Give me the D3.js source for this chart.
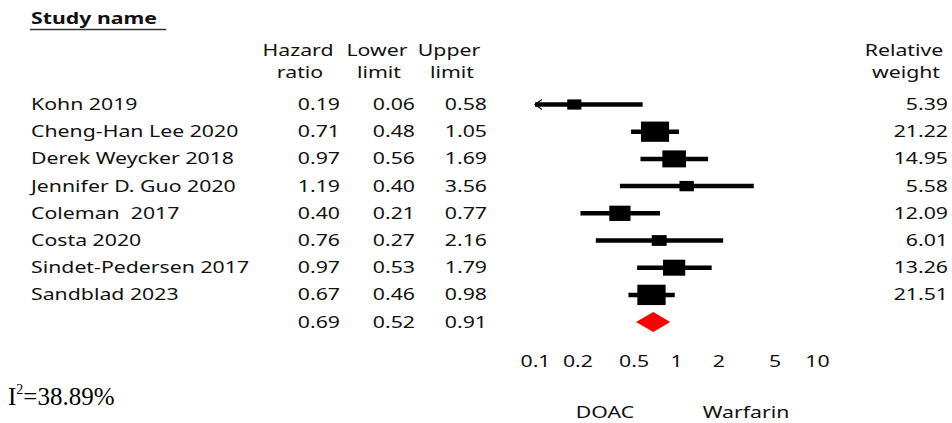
<!DOCTYPE html>
<html>
<head>
<meta charset="utf-8">
<script src="https://cdn.jsdelivr.net/npm/d3@7"></script>
<style>
  html, body { margin: 0; padding: 0; background: #fff; }
  svg { display: block; }
  text { white-space: pre; }
</style>
</head>
<body>
<svg id="chart" width="952" height="423"></svg>
<script>
// ---------------- data ----------------
const studies = ["Kohn 2019", "Cheng-Han Lee 2020", "Derek Weycker 2018", "Jennifer D. Guo 2020",
                 "Coleman  2017", "Costa 2020", "Sindet-Pedersen 2017", "Sandblad 2023"];
const hazardRatio = [0.19, 0.71, 0.97, 1.19, 0.40, 0.76, 0.97, 0.67];
const lowerLimit  = [0.06, 0.48, 0.56, 0.40, 0.21, 0.27, 0.53, 0.46];
const upperLimit  = [0.58, 1.05, 1.69, 3.56, 0.77, 2.16, 1.79, 0.98];
const relWeight   = [5.39, 21.22, 14.95, 5.58, 12.09, 6.01, 13.26, 21.51];
const pooled      = [0.69, 0.52, 0.91];   // hazard ratio, lower, upper
const tickValues  = [0.1, 0.2, 0.5, 1, 2, 5, 10];
const tickLabels  = ["0.1", "0.2", "0.5", "1", "2", "5", "10"];
const headers     = [["Hazard", "ratio"], ["Lower", "limit"], ["Upper", "limit"], ["Relative", "weight"]];
const iSquared    = "38.89%";
const leftLabel   = "DOAC";
const rightLabel  = "Warfarin";

// ---------------- layout ----------------
const FONT = "'Noto Sans', 'Open Sans', sans-serif";
const FS = 16;
const SX = 1.33;           // horizontal stretch of the original raster
const INK = "#111";

const svg = d3.select("#chart");

const x = d3.scaleLog().domain([0.1, 10]).range([535, 817]);
const row = d3.scaleLinear().domain([0, 8]).range([110, 327.6]);   // text baselines
const markOffset = -5.5;

function txt(g, px, py, s, anchor, opts = {}) {
  return g.append("text")
    .attr("transform", `translate(${px},${py}) scale(${SX},1)`)
    .attr("text-anchor", anchor || "start")
    .attr("font-family", FONT)
    .attr("font-size", opts.size || FS)
    .attr("font-weight", opts.weight || "normal")
    .attr("fill", INK)
    .text(s);
}

const gText = svg.append("g");

// Title
txt(gText, 31, 24, "Study name", "start", { weight: "bold" });
svg.append("line").attr("x1", 30).attr("x2", 166).attr("y1", 29.5).attr("y2", 29.5)
   .attr("stroke", "#333").attr("stroke-width", 1.5);

// Column headers
const headX = [[298, 300], [377, 379], [449, 452], [904, 906]];
const headY1 = 56, headY2 = 78;
headers.forEach((h, i) => {
  txt(gText, headX[i][0], headY1, h[0], "middle");
  txt(gText, headX[i][1], headY2, h[1], "middle");
});

const fmt = d3.format(".2f");
const colHR = 340, colLo = 415, colUp = 487, colW = 948;

studies.forEach((s, i) => {
  const y = row(i);
  txt(gText, 31, y, s, "start");
  txt(gText, colHR, y, fmt(hazardRatio[i]), "end");
  txt(gText, colLo, y, fmt(lowerLimit[i]), "end");
  txt(gText, colUp, y, fmt(upperLimit[i]), "end");
  txt(gText, colW, y, fmt(relWeight[i]), "end");
});
txt(gText, colHR, row(8), fmt(pooled[0]), "end");
txt(gText, colLo, row(8), fmt(pooled[1]), "end");
txt(gText, colUp, row(8), fmt(pooled[2]), "end");

// ---------------- forest marks ----------------
const gMarks = svg.append("g");
const [xmin, xmax] = x.domain();
const clampX = v => x(Math.max(xmin, Math.min(xmax, v)));

studies.forEach((s, i) => {
  const cy = row(i) + markOffset;
  gMarks.append("line")
    .attr("x1", clampX(lowerLimit[i])).attr("x2", clampX(upperLimit[i]))
    .attr("y1", cy).attr("y2", cy)
    .attr("stroke", "#000").attr("stroke-width", 4.5);
  if (lowerLimit[i] < xmin) {
    const ax = x(xmin);
    gMarks.append("path")
      .attr("d", `M${ax + 7},${cy - 5} L${ax},${cy} L${ax + 7},${cy + 5}`)
      .attr("fill", "none").attr("stroke", "#000").attr("stroke-width", 1.2);
  }
  const w = 6.1 * Math.sqrt(relWeight[i]);
  const h = 0.72 * w;
  gMarks.append("rect")
    .attr("x", x(hazardRatio[i]) - w / 2).attr("y", cy - h / 2)
    .attr("width", w).attr("height", h)
    .attr("fill", "#000");
});

// pooled diamond
{
  const cy = row(8) + markOffset;
  const dh = 10;
  gMarks.append("path")
    .attr("d", `M${x(pooled[1])},${cy} L${x(pooled[0])},${cy - dh} L${x(pooled[2])},${cy} L${x(pooled[0])},${cy + dh} Z`)
    .attr("fill", "#ff0000");
}

// ---------------- axis ----------------
const axis = d3.axisBottom(x).tickValues(tickValues)
  .tickFormat((d, i) => tickLabels[i]).tickSize(0).tickPadding(0);
const gAxis = svg.append("g").attr("transform", "translate(0,366.5)").call(axis);
gAxis.select(".domain").remove();
gAxis.selectAll("text")
  .attr("y", 0).attr("dy", 0)
  .attr("transform", `scale(${SX},1)`)
  .attr("font-family", FONT).attr("font-size", FS).attr("fill", INK);

// Direction labels
txt(gText, x(1) - 71, 418, leftLabel, "middle");
txt(gText, x(1) + 70, 418, rightLabel, "middle");

// I-squared
const iT = svg.append("text")
  .attr("x", 8).attr("y", 405)
  .attr("font-family", "'Liberation Serif', 'Times New Roman', serif")
  .attr("font-size", 25).attr("fill", "#000");
iT.append("tspan").text("I");
iT.append("tspan").attr("font-size", 14).attr("dy", -11).text("2");
iT.append("tspan").attr("dy", 11).text("=" + iSquared);
</script>
</body>
</html>
